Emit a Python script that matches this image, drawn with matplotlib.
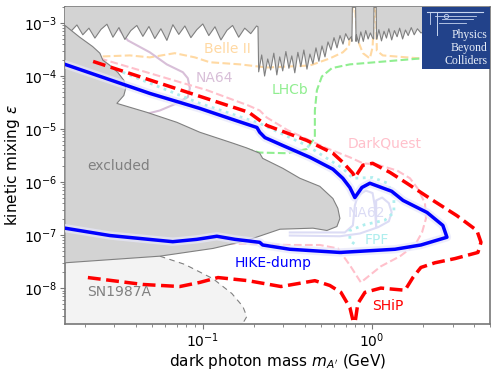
import matplotlib.pyplot as plt

# excluded region: top band (jagged limits from e+e- and LHCb searches)
top_mass = [0.0153, 0.0166, 0.018, 0.0195, 0.0212, 0.023, 0.025, 0.0271, 0.0294, 0.0319,
            0.0346, 0.0375, 0.0407, 0.0442, 0.048, 0.052, 0.0565, 0.0613, 0.0665, 0.0721,
            0.0783, 0.085, 0.0922, 0.1, 0.1085, 0.118, 0.128, 0.139, 0.15, 0.163,
            0.177, 0.192, 0.208, 0.212,
            0.214, 0.223, 0.232, 0.242, 0.252, 0.263, 0.274, 0.285, 0.297, 0.31,
            0.323, 0.336, 0.35, 0.365, 0.38, 0.396, 0.413, 0.43, 0.448, 0.467,
            0.486, 0.507, 0.528, 0.55, 0.573, 0.597, 0.622, 0.648, 0.675, 0.70,
            0.73, 0.755,
            0.762, 0.768, 0.80, 0.806,
            0.81, 0.835, 0.86, 0.89, 0.92, 0.95, 0.98, 1.01,
            1.025, 1.03, 1.06, 1.065,
            1.07, 1.1, 1.14, 1.18, 1.22, 1.26, 1.31, 1.36, 1.41, 1.46,
            1.52, 1.58, 1.64, 1.71, 1.78, 1.86, 1.95, 2.1, 2.5, 3.2, 5.0]
top_eps = [8.8e-4, 7e-4, 9.2e-4, 6e-4, 8e-4, 5.2e-4, 7.6e-4, 9.5e-4, 5.4e-4, 8.2e-4,
           4.9e-4, 7.2e-4, 9e-4, 5.6e-4, 8.6e-4, 5.1e-4, 7.8e-4, 4.7e-4, 9.3e-4, 6.1e-4,
           8.8e-4, 5.3e-4, 7.5e-4, 9.6e-4, 5.8e-4, 8.5e-4, 4.8e-4, 7.3e-4, 9e-4, 5.4e-4,
           8e-4, 6.3e-4, 8.8e-4, 8.5e-4,
           1.2e-4, 2.5e-4, 1.0e-4, 2.1e-4, 1.3e-4, 2.7e-4, 1.05e-4, 2.3e-4, 1.25e-4, 2.9e-4,
           1.4e-4, 2.4e-4, 1.15e-4, 2.8e-4, 1.5e-4, 3.1e-4, 1.35e-4, 2.6e-4, 1.7e-4, 3.4e-4,
           1.9e-4, 3.7e-4, 2.3e-4, 4.4e-4, 3.1e-4, 5.3e-4, 3.4e-4, 5.8e-4, 4e-4, 6.3e-4,
           4.8e-4, 5.5e-4,
           4.5e-4, 3e-3, 3e-3, 4.5e-4,
           6e-4, 4.2e-4, 6.8e-4, 4.5e-4, 7.2e-4, 5e-4, 6.5e-4, 5.2e-4,
           5e-4, 3e-3, 3e-3, 5e-4,
           5e-4, 7.5e-4, 4.6e-4, 7e-4, 5.2e-4, 7.8e-4, 4.8e-4, 7.2e-4, 5.5e-4, 8e-4,
           5e-4, 7.4e-4, 5.8e-4, 8.2e-4, 6e-4, 7.8e-4, 6.5e-4, 7e-4, 7e-4, 7e-4, 7e-4]

# excluded region: main boundary
excl_mass = [0.0153, 0.0187, 0.0223, 0.0246, 0.0256, 0.0282, 0.0314, 0.0341, 0.035, 0.0341,
             0.031, 0.0466, 0.0702, 0.096, 0.151, 0.182, 0.217, 0.226, 0.297, 0.375,
             0.492, 0.588, 0.629, 0.647, 0.621, 0.542, 0.448, 0.286, 0.182, 0.115,
             0.0557, 0.0153]
excl_eps = [9e-4, 5.4e-4, 3.6e-4, 2.7e-4, 2.0e-4, 1.59e-4, 1.17e-4, 8.3e-5, 5.9e-5, 4.3e-5,
            3.05e-5, 2.07e-5, 1.34e-5, 8.7e-6, 5.4e-6, 4.4e-6, 3.5e-6, 2.8e-6, 1.82e-6, 1.18e-6,
            8.3e-7, 4.9e-7, 3.2e-7, 2.06e-7, 1.45e-7, 1.22e-7, 1.35e-7, 1.29e-7, 7.9e-8, 5.6e-8,
            4.0e-8, 3.0e-8]

# SN1987A
sn_mass = [0.0557, 0.0782, 0.115, 0.1485, 0.1725, 0.182, 0.17, 0.16]
sn_eps = [4.0e-8, 2.8e-8, 1.5e-8, 7.9e-9, 4.5e-9, 2.9e-9, 2.0e-9, 1.5e-9]

# HIKE-dump sensitivity
hike_mass = [0.0153, 0.0486, 0.096, 0.1445, 0.209, 0.217, 0.233, 0.297, 0.43, 0.588,
             0.673, 0.741, 0.793, 0.873, 0.973, 1.31, 1.53, 2.12, 2.63, 2.78,
             1.95, 1.37, 0.647, 0.327, 0.226, 0.217, 0.155, 0.121, 0.092, 0.0664,
             0.0282, 0.0153]
hike_eps = [1.66e-4, 4.7e-5, 2.45e-5, 1.58e-5, 1.07e-5, 8.7e-6, 6.9e-6, 4.9e-6, 2.93e-6, 1.75e-6,
            1.18e-6, 7.9e-7, 5.1e-7, 7.9e-7, 9.5e-7, 6.7e-7, 4.5e-7, 2.67e-7, 1.52e-7, 9.1e-8,
            6.5e-8, 5.4e-8, 4.7e-8, 5.4e-8, 6.5e-8, 7.3e-8, 8.3e-8, 9.5e-8, 8.3e-8, 7.5e-8,
            9.8e-8, 1.35e-7]

# SHiP
ship_mass = [0.0209, 0.0442, 0.0731, 0.096, 0.123, 0.185, 0.29, 0.46, 0.564, 0.656,
             0.741, 0.782, 0.79, 0.793, 0.826, 0.91, 1.13, 1.57, 1.75, 1.95,
             2.36, 3.10, 4.24, 4.42, 4.18, 3.18, 2.30, 1.61, 1.28, 1.01,
             0.885, 0.793, 0.772, 0.673, 0.588, 0.412, 0.239, 0.217, 0.187, 0.100, 0.0214]
ship_eps = [1.58e-8, 1.17e-8, 1.07e-8, 1.28e-8, 1.58e-8, 1.38e-8, 1.07e-8, 1.38e-8, 1.12e-8, 8.3e-9,
            4.3e-9, 2.1e-9, 1e-9, 2.1e-9, 5.1e-9, 8.3e-9, 1.0e-8, 9.1e-9, 1.59e-8, 2.45e-8,
            3.0e-8, 3.6e-8, 4.7e-8, 7.3e-8, 1.22e-7, 2.33e-7, 4.5e-7, 9.5e-7, 1.52e-6, 2.26e-6,
            2.08e-6, 1.22e-6, 1.46e-6, 2.36e-6, 3.5e-6, 6.1e-6, 1.17e-5, 1.46e-5, 2.07e-5, 3.97e-5,
            1.98e-4]

# FPF
fpf_mass = [0.0336, 0.096, 0.217, 0.412, 0.673, 0.772, 1.01, 1.24, 1.35, 1.35,
            1.19, 0.91, 0.741, 0.741, 0.826]
fpf_eps = [1.18e-4, 3.05e-5, 1.28e-5, 4.9e-6, 1.81e-6, 1.18e-6, 1.22e-6, 9.5e-7, 5.1e-7, 2.67e-7,
           1.9e-7, 1.58e-7, 1.22e-7, 7.9e-8, 6.1e-8]

# NA62
na62_mass = [0.327, 0.692, 0.772, 0.793, 0.826, 0.921, 1.01, 1.04, 1.06, 1.06,
             1.15, 1.26, 1.31, 1.26, 1.09, 0.849, 0.647, 0.327]
na62_eps = [1.12e-7, 1.12e-7, 1.52e-7, 3.6e-7, 5.6e-7, 6.9e-7, 6.2e-7, 3.6e-7, 1.45e-7, 4.5e-7,
            5.1e-7, 4.0e-7, 2.67e-7, 1.82e-7, 1.41e-7, 1.07e-7, 9.5e-8, 9.8e-8]

# DarkQuest
dq_mass = [0.0246, 0.106, 0.185, 0.217, 0.239, 0.318, 0.527, 0.741, 0.885, 1.07,
           1.41, 1.68, 1.87, 2.06, 2.09, 1.98, 1.80, 1.47, 1.13, 0.861,
           0.741, 0.629, 0.492, 0.327, 0.19, 0.12]
dq_eps = [2.15e-4, 5.4e-5, 2.8e-5, 2.24e-5, 1.65e-5, 9.5e-6, 4.5e-6, 2.93e-6, 2.26e-6, 2.14e-6,
          1.65e-6, 1.18e-6, 7.5e-7, 4.0e-7, 2.06e-7, 1.12e-7, 6.5e-8, 4.0e-8, 2.57e-8, 1.28e-8,
          2.7e-8, 5.6e-8, 6.5e-8, 6.5e-8, 6.8e-8, 7.0e-8]

# LHCb
lhcb_mass = [0.115, 0.135, 0.217, 0.314, 0.412, 0.46, 0.46, 0.473, 0.506, 0.58, 0.741, 1.95, 5.0]
lhcb_eps = [6.0e-6, 5.4e-6, 3.6e-6, 3.5e-6, 4.2e-6, 6.9e-6, 2.24e-5, 5.4e-5, 9.8e-5, 1.41e-4,
            1.66e-4, 2.15e-4, 2.34e-4]

# Belle II
belle_mass = [0.022, 0.037, 0.0486, 0.0683, 0.0897, 0.11, 0.166, 0.239, 0.43, 0.564,
              0.673, 0.731, 0.76, 0.775, 0.79, 0.805, 0.826, 0.885, 0.973, 1.01,
              1.03, 1.045, 1.06, 1.07, 1.16, 1.92, 5.0]
belle_eps = [2.3e-4, 2.45e-4, 2.25e-4, 2.7e-4, 2.25e-4, 1.82e-4, 1.66e-4, 1.45e-4, 1.58e-4, 2.15e-4,
             2.8e-4, 3.6e-4, 1.12e-3, 3e-3, 3e-3, 1.12e-3, 4.7e-4, 2.7e-4, 2.15e-4, 3.5e-4,
             1.5e-3, 3e-3, 1.5e-3, 3.0e-4, 2.45e-4, 2.15e-4, 2.34e-4]

# NA64
na64_mass = [0.0323, 0.036, 0.0486, 0.0612, 0.0762, 0.0815, 0.0838, 0.0815, 0.0683, 0.0557,
             0.0454, 0.04]
na64_eps = [7.3e-4, 4.7e-4, 2.8e-4, 1.66e-4, 1.18e-4, 9.1e-5, 5.9e-5, 4.0e-5, 2.95e-5, 2.24e-5,
            1.9e-5, 1.75e-5]

x_min, x_max = 0.0153, 5.0
y_min, y_max = 2.1e-9, 2e-3

fig = plt.figure(figsize=(4.98, 3.72), dpi=100)
ax = fig.add_axes([0.1305, 0.129, 0.8535, 0.852])
ax.set_xscale('log')
ax.set_yscale('log')

# SN1987A region
ax.fill([x_min] + sn_mass + [x_min], [3.0e-8] + sn_eps + [1.5e-9],
        facecolor='#f3f3f3', edgecolor='none', zorder=1)
ax.plot(sn_mass, sn_eps, color='gray', lw=0.8, ls=(0, (5, 4)), zorder=1.5)

# other experiments (drawn under the excluded region)
ax.plot(belle_mass, belle_eps, color='#ffd9a3', lw=1.5, ls='--', zorder=2)
ax.plot(na64_mass, na64_eps, color='thistle', lw=1.5, zorder=2)
ax.plot(lhcb_mass, lhcb_eps, color='lightgreen', lw=1.5, ls='--', zorder=2)
ax.plot(dq_mass, dq_eps, color='pink', lw=1.5, ls='--', zorder=2)
ax.plot(na62_mass, na62_eps, color='#dcdcf5', lw=1.5, zorder=2)
ax.plot(fpf_mass, fpf_eps, color='paleturquoise', lw=2, ls=':', zorder=2)

# excluded regions
ax.fill_between(top_mass, top_eps, 1.0, facecolor='lightgray', edgecolor='none', zorder=3)
ax.plot(top_mass, top_eps, color='gray', lw=0.8, zorder=3)
ax.fill(excl_mass, excl_eps, facecolor='lightgray', edgecolor='gray', lw=0.8, zorder=3)

# HIKE-dump and SHiP
ax.plot(hike_mass, hike_eps, color='lavender', lw=6, alpha=0.7, zorder=3.5)
ax.plot(hike_mass, hike_eps, color='blue', lw=2.5, zorder=4)
ax.plot(ship_mass, ship_eps, color='red', lw=2.5, ls='--', zorder=4)

# labels
fs = 10
ax.text(0.1405, 3.3e-4, 'Belle II', color='#ffd9a3', fontsize=fs, ha='center', va='center', zorder=5)
ax.text(0.091, 9.1e-5, 'NA64', color='thistle', fontsize=fs, va='center', zorder=5)
ax.text(0.256, 5.4e-5, 'LHCb', color='lightgreen', fontsize=fs, va='center', zorder=5)
ax.text(0.72, 5.4e-6, 'DarkQuest', color='pink', fontsize=fs, va='center', zorder=5)
ax.text(0.0206, 2.0e-6, 'excluded', color='gray', fontsize=fs, va='center', zorder=5)
ax.text(0.72, 2.6e-7, 'NA62', color='#dcdcf5', fontsize=fs, va='center', zorder=5)
ax.text(0.91, 7.9e-8, 'FPF', color='paleturquoise', fontsize=fs, va='center', zorder=5)
ax.text(0.155, 3.0e-8, 'HIKE-dump', color='blue', fontsize=fs, va='center', zorder=5)
ax.text(0.0206, 8.3e-9, 'SN1987A', color='gray', fontsize=fs, va='center', zorder=5)
ax.text(1.01, 4.5e-9, 'SHiP', color='red', fontsize=fs, va='center', zorder=5)

ax.set_xlim(x_min, x_max)
ax.set_ylim(y_min, y_max)
ax.set_xlabel(r"dark photon mass $m_{A'}$ (GeV)", fontsize=11, labelpad=1)
ax.set_ylabel(r'kinetic mixing $\varepsilon$', fontsize=11, labelpad=1)
ax.tick_params(which='both', colors='#777777', labelcolor='black', labelsize=10, pad=2)
ax.tick_params(which='major', length=3.5)
ax.tick_params(which='minor', length=2)
for s in ax.spines.values():
    s.set_color('#777777')
    s.set_linewidth(1.2)

# Physics Beyond Colliders logo
logo = fig.add_axes([0.847, 0.8145, 0.1365, 0.1667])
logo.set_facecolor('#22428a')
logo.set_xticks([])
logo.set_yticks([])
for s in logo.spines.values():
    s.set_visible(False)
logo.set_xlim(0, 1)
logo.set_ylim(0, 1)
lc = '#c8d6f0'
logo.plot([0.07, 0.9], [0.92, 0.92], color=lc, lw=0.8)
logo.plot([0.2, 0.8], [0.86, 0.86], color=lc, lw=0.6)
logo.plot([0.3, 0.75], [0.80, 0.80], color=lc, lw=0.6)
logo.plot([0.25, 0.65], [0.74, 0.74], color=lc, lw=0.6)
logo.plot([0.22, 0.22], [0.92, 0.55], color=lc, lw=0.7)
logo.plot([0.12, 0.12], [0.92, 0.72], color=lc, lw=0.6)
logo.plot([0.36], [0.86], marker='o', ms=3, mfc='none', mec=lc, mew=0.6)
for txt, yy in [('Physics', 0.55), ('Beyond', 0.34), ('Colliders', 0.13)]:
    logo.text(0.96, yy, txt, color='#e8eef8', fontsize=8.5, family='Liberation Serif',
              ha='right', va='center')

fig.savefig('out.png', dpi=100)
